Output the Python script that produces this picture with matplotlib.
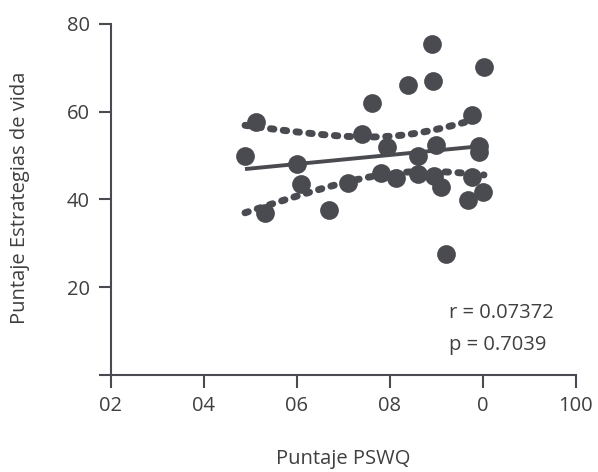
import numpy as np
import matplotlib
matplotlib.use('Agg')
import matplotlib.pyplot as plt

# PSWQ score vs life strategies score
pswq = [48.9, 51.2, 53.2, 60.1, 60.9, 66.9, 71.0, 74.0, 76.2, 78.1,
        79.4, 81.4, 83.9, 86.1, 86.1, 89.1, 89.3, 90.0, 89.5, 91.0,
        92.1, 96.8, 97.7, 97.7, 99.2, 99.2, 100.1, 100.3]
estrategias = [49.9, 57.6, 36.9, 48.1, 43.5, 37.6, 43.7, 54.9, 62.0, 46.0,
               51.9, 44.9, 66.1, 49.9, 45.8, 75.4, 67.0, 52.4, 45.3, 42.8,
               27.6, 39.9, 59.2, 45.1, 52.1, 50.8, 41.7, 70.2]

xticks = [20, 40, 60, 80, 100, 120]
xticklabels = ['02', '04', '06', '08', '0', '100']
yticks = [0, 20, 40, 60, 80]
yticklabels = ['', '20', '40', '60', '80']
r_text = 'r = 0.07372'
p_text = 'p = 0.7039'

col = '#4a4b50'
txt = '#3f3f3f'
plt.rcParams['font.family'] = ['Open Sans', 'DejaVu Sans']

x = np.array(pswq)
y = np.array(estrategias)
n = len(x)

# linear fit + 95% confidence band
b1, b0 = np.polyfit(x, y, 1)
xs = np.linspace(x.min(), x.max(), 100)
fit = b0 + b1 * xs
resid = y - (b0 + b1 * x)
s = np.sqrt(np.sum(resid ** 2) / (n - 2))
sxx = np.sum((x - x.mean()) ** 2)
tval = 2.056
se = s * np.sqrt(1.0 / n + (xs - x.mean()) ** 2 / sxx)
upper = fit + tval * se
lower = fit - tval * se

fig = plt.figure(figsize=(5.98, 4.72), dpi=100)
ax = fig.add_axes([0.185, 0.2055, 0.7775, 0.744])

ax.plot(x, y, 'o', color=col, markersize=13.5, markeredgewidth=0, zorder=3)
ax.plot(xs, fit, color=col, lw=2.8, solid_capstyle='butt', zorder=2)
for band in (upper, lower):
    ax.plot(xs, band, color=col, lw=5, linestyle=(0, (0.5, 1.35)),
            dash_capstyle='round', zorder=2)

ax.set_xlim(20, 120)
ax.set_ylim(0, 80)
ax.set_xticks(xticks)
ax.set_xticklabels(xticklabels)
ax.set_yticks(yticks)
ax.set_yticklabels(yticklabels)

for side in ['top', 'right']:
    ax.spines[side].set_visible(False)
for side in ['left', 'bottom']:
    ax.spines[side].set_color(col)
    ax.spines[side].set_linewidth(1.5)
ax.tick_params(colors=col, length=9, width=1.5, labelsize=14.5,
               labelcolor=txt, pad=6)

ax.set_xlabel('Puntaje PSWQ', fontsize=14.5, color=txt, va='center')
ax.xaxis.set_label_coords(0.5, -0.24)
ax.set_ylabel('Puntaje Estrategias de vida', fontsize=14.5, color=txt, va='center')
ax.yaxis.set_label_coords(-0.195, 0.505)

ax.text(0.7275, 0.177, r_text, transform=ax.transAxes, fontsize=14.5,
        color=txt, va='center', ha='left')
ax.text(0.7275, 0.085, p_text, transform=ax.transAxes, fontsize=14.5,
        color=txt, va='center', ha='left')

fig.savefig('out.png', dpi=100)
